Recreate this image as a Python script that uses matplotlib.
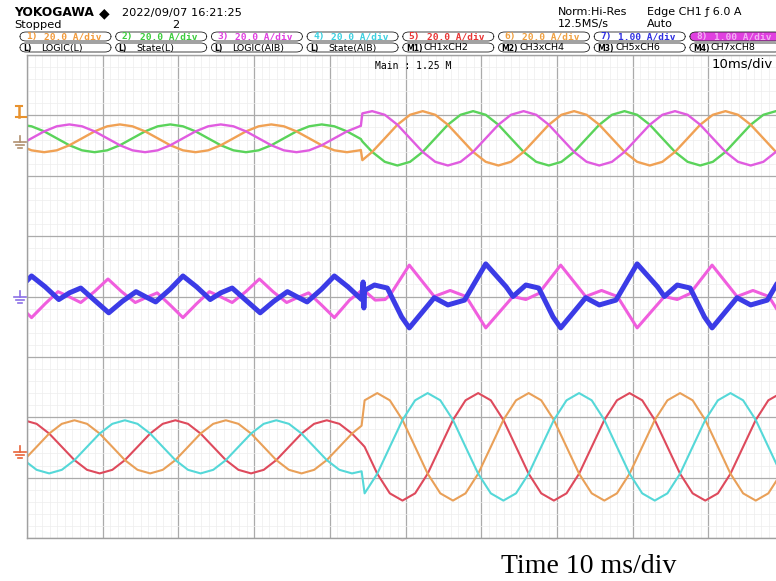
import numpy as np
import matplotlib.pyplot as plt
from matplotlib.patches import FancyBboxPatch
from matplotlib.lines import Line2D

# ---- values ----
# time in ms from the left edge of the grid, currents in A

# upper group: CH1 (orange), CH2 (green), CH3 (magenta), 20 A/div
top_t = [-1.07, 0.60, 2.27, 3.93,
         5.60, 7.27, 8.93, 10.60, 12.27, 13.93, 15.60, 17.27, 18.93, 20.60, 22.27, 23.93,
         25.60, 27.27, 28.93, 30.60, 32.27, 33.93, 35.60, 37.27, 38.93, 40.60, 42.27, 43.93,
         44.10, 44.30,
         45.60, 47.27, 48.93, 50.60, 52.27, 53.93, 55.60, 57.27, 58.93, 60.60, 62.27, 63.93,
         65.60, 67.27, 68.93, 70.60, 72.27, 73.93, 75.60, 77.27, 78.93, 80.60, 82.27, 83.93,
         85.60, 87.27, 88.93, 90.60, 92.27, 93.93, 95.60, 97.27, 98.93, 100.60, 102.27, 103.93]
ch1 = [-2.3, -3.98, -4.6, -3.98,
       -2.3, 0, 2.3, 3.98, 4.6, 3.98, 2.3, 0, -2.3, -3.98, -4.6, -3.98,
       -2.3, 0, 2.3, 3.98, 4.6, 3.98, 2.3, 0, -2.3, -3.98, -4.6, -3.98,
       -3.86, -7.24,
       -4.5, 0, 4.5, 7.79, 9, 7.79, 4.5, 0, -4.5, -7.79, -9, -7.79,
       -4.5, 0, 4.5, 7.79, 9, 7.79, 4.5, 0, -4.5, -7.79, -9, -7.79,
       -4.5, 0, 4.5, 7.79, 9, 7.79, 4.5, 0, -4.5, -7.79, -9, -7.79]
ch2 = [4.6, 3.98, 2.3, 0,
       -2.3, -3.98, -4.6, -3.98, -2.3, 0, 2.3, 3.98, 4.6, 3.98, 2.3, 0,
       -2.3, -3.98, -4.6, -3.98, -2.3, 0, 2.3, 3.98, 4.6, 3.98, 2.3, 0,
       -0.24, -1.04,
       -4.5, -7.79, -9, -7.79, -4.5, 0, 4.5, 7.79, 9, 7.79, 4.5, 0,
       -4.5, -7.79, -9, -7.79, -4.5, 0, 4.5, 7.79, 9, 7.79, 4.5, 0,
       -4.5, -7.79, -9, -7.79, -4.5, 0, 4.5, 7.79, 9, 7.79, 4.5, 0]
ch3 = [-2.3, 0, 2.3, 3.98,
       4.6, 3.98, 2.3, 0, -2.3, -3.98, -4.6, -3.98, -2.3, 0, 2.3, 3.98,
       4.6, 3.98, 2.3, 0, -2.3, -3.98, -4.6, -3.98, -2.3, 0, 2.3, 3.98,
       4.10, 8.26,
       9, 7.79, 4.5, 0, -4.5, -7.79, -9, -7.79, -4.5, 0, 4.5, 7.79,
       9, 7.79, 4.5, 0, -4.5, -7.79, -9, -7.79, -4.5, 0, 4.5, 7.79,
       9, 7.79, 4.5, 0, -4.5, -7.79, -9, -7.79, -4.5, 0, 4.5, 7.79]

# lower group: CH4 (cyan), CH5 (red), CH6 (orange), 20 A/div
bot_t = [-0.40, 1.27, 2.93, 4.60, 6.27, 7.93, 9.60, 11.27, 12.93, 14.60, 16.27, 17.93,
         19.60, 21.27, 22.93, 24.60, 26.27, 27.93, 29.60, 31.27, 32.93, 34.60, 36.27, 37.93,
         39.60, 41.27, 42.93,
         44.20,
         44.60, 46.27, 47.93, 49.60, 51.27, 52.93, 54.60, 56.27, 57.93,
         59.60, 61.27, 62.93, 64.60, 66.27, 67.93, 69.60, 71.27, 72.93, 74.60, 76.27, 77.93,
         79.60, 81.27, 82.93, 84.60, 86.27, 87.93, 89.60, 91.27, 92.93, 94.60, 96.27, 97.93,
         99.60, 101.27, 102.93]
ch5 = [8.8, 7.62, 4.4, 0, -4.4, -7.62, -8.8, -7.62, -4.4, 0, 4.4, 7.62,
       8.8, 7.62, 4.4, 0, -4.4, -7.62, -8.8, -7.62, -4.4, 0, 4.4, 7.62,
       8.8, 7.62, 4.4,
       1.10,
       0, -8.9, -15.41, -17.8, -15.41, -8.9, 0, 8.9, 15.41,
       17.8, 15.41, 8.9, 0, -8.9, -15.41, -17.8, -15.41, -8.9, 0, 8.9, 15.41,
       17.8, 15.41, 8.9, 0, -8.9, -15.41, -17.8, -15.41, -8.9, 0, 8.9, 15.41,
       17.8, 15.41, 8.9]
ch6 = [-4.4, 0, 4.4, 7.62,
       8.8, 7.62, 4.4, 0, -4.4, -7.62, -8.8, -7.62, -4.4, 0, 4.4, 7.62,
       8.8, 7.62, 4.4, 0, -4.4, -7.62, -8.8, -7.62, -4.4, 0, 4.4,
       7.00,
       15.41,
       17.8, 15.41, 8.9, 0, -8.9, -15.41, -17.8, -15.41, -8.9, 0, 8.9, 15.41,
       17.8, 15.41, 8.9, 0, -8.9, -15.41, -17.8, -15.41, -8.9, 0, 8.9, 15.41,
       17.8, 15.41, 8.9, 0, -8.9, -15.41, -17.8, -15.41, -8.9, 0, 8.9]
ch4 = [-4.4, -7.62, -8.8, -7.62, -4.4, 0, 4.4, 7.62,
       8.8, 7.62, 4.4, 0, -4.4, -7.62, -8.8, -7.62, -4.4, 0, 4.4, 7.62,
       8.8, 7.62, 4.4, 0, -4.4, -7.62, -8.8,
       -8.10,
       -15.41, -8.9, 0, 8.9, 15.41,
       17.8, 15.41, 8.9, 0, -8.9, -15.41, -17.8, -15.41, -8.9, 0, 8.9, 15.41,
       17.8, 15.41, 8.9, 0, -8.9, -15.41, -17.8, -15.41, -8.9, 0, 8.9, 15.41,
       17.8, 15.41, 8.9, 0, -8.9, -15.41, -17.8]

# middle group: CH7 (blue) and CH8 (pink), 1.00 A/div
ch7_t = [-1.1, 0.6, 2.4, 4.2, 5.6, 7.1, 8.9, 10.8, 12.6, 14.4, 15.6, 17.0, 18.9,
         20.6, 22.4, 24.2, 25.6, 27.1, 28.9, 30.8, 32.6, 34.4, 35.6, 37.0, 38.9,
         40.6, 42.4, 44.2, 44.4, 44.5, 44.6, 45.9, 47.6, 49.5, 50.5, 53.8, 55.6, 57.8,
         60.6, 63.3, 64.2, 65.9, 67.6, 69.5, 70.5, 73.8, 75.6, 77.8,
         80.6, 83.3, 84.2, 85.9, 87.6, 89.5, 90.5, 93.8, 95.6, 97.8,
         100.6, 103.3]
ch7 = [0.12, 0.34, 0.16, -0.05, 0.06, 0.14, -0.06, -0.27, -0.08, 0.08, 0.0, -0.09, 0.12,
       0.34, 0.16, -0.05, 0.06, 0.14, -0.06, -0.27, -0.08, 0.08, 0.0, -0.09, 0.12,
       0.34, 0.16, -0.05, 0.24, -0.19, 0.10, 0.19, 0.14, -0.34, -0.52, -0.02, -0.14, -0.06,
       0.54, 0.16, 0.0, 0.19, 0.14, -0.34, -0.52, -0.02, -0.14, -0.06,
       0.54, 0.16, 0.0, 0.19, 0.14, -0.34, -0.52, -0.02, -0.14, -0.06,
       0.54, 0.16]
ch8_t = [-1.1, 0.6, 2.4, 4.1, 5.5, 7.1, 8.9, 10.7, 12.5, 14.3, 15.7, 17.2, 18.9,
         20.6, 22.4, 24.1, 25.5, 27.1, 28.9, 30.7, 32.5, 34.3, 35.7, 37.2, 38.9,
         40.6, 42.6, 44.3, 44.9, 46.0, 47.3, 48.0, 50.5, 53.8, 55.9, 58.0,
         60.6, 64.2, 65.9, 67.6, 70.5, 73.8, 75.9, 78.0,
         80.6, 84.2, 85.9, 87.6, 90.5, 93.8, 95.9, 98.0,
         100.6]
ch8 = [-0.14, -0.35, -0.12, 0.08, 0.0, -0.1, 0.08, 0.29, 0.08, -0.1, -0.02, 0.06, -0.14,
       -0.35, -0.12, 0.08, 0.0, -0.1, 0.08, 0.29, 0.08, -0.1, -0.02, 0.06, -0.14,
       -0.35, -0.06, 0.11, 0.06, -0.06, -0.05, 0.03, 0.52, 0.0, 0.1, 0.0,
       -0.52, 0.0, -0.05, 0.05, 0.52, 0.0, 0.1, 0.0,
       -0.52, 0.0, -0.05, 0.05, 0.52, 0.0, 0.1, 0.0,
       -0.52]

# header texts
ch_numbers = ["1", "2", "3", "4", "5", "6", "7", "8"]
ch_vdiv = ["20.0 A/div", "20.0 A/div", "20.0 A/div", "20.0 A/div",
           "20.0 A/div", "20.0 A/div", "1.00 A/div", "1.00 A/div"]
sub_tags = ["L", "L", "L", "L", "M1", "M2", "M3", "M4"]
sub_labels = ["LOGIC(L)", "State(L)", "LOGIC(AIB)", "State(AIB)",
              "CH1xCH2", "CH3xCH4", "CH5xCH6", "CH7xCH8"]

# ---- layout (pixels of the 776x581 picture) ----
W, H = 776, 581
def fx(x):
    return x / W
def fy(y):
    return 1 - y / H

label_cols = ["#f29a3a", "#3ccc3c", "#e03ee0", "#3cd0e0",
              "#e83434", "#f0a040", "#3030e0", "#f3b0f3"]

fig = plt.figure(figsize=(W / 100, H / 100), dpi=100)
fig.patch.set_facecolor("white")

# grid area: x 27..784 px (10 div), y 55..538 px (8 div)
ax = fig.add_axes([fx(27), fy(538), 757 / W, 483 / H])
ax.set_xlim(0, 100)
ax.set_ylim(-4, 4)
ax.set_xticks(np.arange(0, 101, 10))
ax.set_yticks(np.arange(-4, 5, 1))
ax.set_xticks(np.arange(0, 100.5, 1), minor=True)
ax.set_yticks(np.arange(-4, 4.05, 0.2), minor=True)
ax.grid(which="minor", color="#ededed", lw=0.5)
ax.grid(which="major", color="#ababab", lw=0.9)
ax.set_axisbelow(True)
ax.tick_params(which="both", length=0, labelbottom=False, labelleft=False)
for s in ax.spines.values():
    s.set_color("#a0a0a0")
    s.set_linewidth(1.0)

def div(vals, scale, offset):
    return np.array(vals) / scale + offset

top_off, mid_off, bot_off = 2.62, 0.0, -2.49

kw = dict(solid_joinstyle="round", solid_capstyle="round")
ax.plot(top_t, div(ch2, 20, top_off), color="#5ad35a", lw=1.7, **kw)
ax.plot(top_t, div(ch1, 20, top_off), color="#f0a154", lw=1.7, **kw)
ax.plot(top_t, div(ch3, 20, top_off), color="#e05ce0", lw=1.7, **kw)

ax.plot(ch8_t, div(ch8, 1, mid_off), color="#f05ede", lw=2.2, **kw)
ax.plot(ch7_t, div(ch7, 1, mid_off), color="#3b3be6", lw=3.6, **kw)

ax.plot(bot_t, div(ch5, 20, bot_off), color="#de4a5c", lw=1.5, **kw)
ax.plot(bot_t, div(ch6, 20, bot_off), color="#e9a058", lw=1.5, **kw)
ax.plot(bot_t, div(ch4, 20, bot_off), color="#55d8d8", lw=1.5, **kw)

ax.text(0.46, 0.987, "Main : 1.25 M", transform=ax.transAxes, fontsize=7,
        family="DejaVu Sans Mono", va="top", ha="left")
fig.text(fx(773), fy(64), "10ms/div", fontsize=9.5, va="center", ha="right")

# ---- left margin markers ----
def seg(x0, y0, x1, y1, color, lw=1.2):
    fig.add_artist(Line2D([fx(x0), fx(x1)], [fy(y0), fy(y1)], color=color, lw=lw))

def ground(y, color):
    seg(20, y - 6, 20, y, color)
    seg(14, y, 26, y, color)
    seg(16, y + 3, 24, y + 3, color)
    seg(18, y + 6, 22, y + 6, color)

seg(19, 106, 19, 117, "#e8922e", 1.8)
seg(16, 106, 22, 106, "#e8922e", 1.5)
seg(16, 117, 26, 117, "#e8922e", 1.5)
ground(142, "#b09070")
ground(297, "#8b6fe6")
ground(452, "#e8643a")

# ---- header ----
fig.text(fx(14), fy(13), "YOKOGAWA", fontsize=8.8, fontweight="heavy",
         va="center", ha="left")
fig.text(fx(99), fy(13), "\u25c6", fontsize=10, va="center", ha="left")
fig.text(fx(122), fy(13), "2022/09/07 16:21:25", fontsize=8.2, va="center", ha="left")
fig.text(fx(14), fy(25), "Stopped", fontsize=8.2, va="center", ha="left")
fig.text(fx(172), fy(25), "2", fontsize=8.2, va="center", ha="left")
fig.text(fx(558), fy(12), "Norm:Hi-Res", fontsize=8, va="center", ha="left")
fig.text(fx(558), fy(24), "12.5MS/s", fontsize=8, va="center", ha="left")
fig.text(fx(647), fy(12), "Edge CH1 \u0192 6.0 A", fontsize=8, va="center", ha="left")
fig.text(fx(647), fy(24), "Auto", fontsize=8, va="center", ha="left")

for i in range(8):
    x0 = 20 + 95.7 * i
    fill = "#e040e0" if i == 7 else "none"
    for yy in (32, 43):
        box = FancyBboxPatch((fx(x0), fy(yy + 9)), 91 / W, 9 / H,
                             boxstyle="round,pad=0,rounding_size=0.008",
                             transform=fig.transFigure, fc=fill if yy == 32 else "none",
                             ec="#222222", lw=0.6)
        fig.add_artist(box)
    fig.text(fx(x0 + 6), fy(37), ch_numbers[i] + ")", fontsize=6.8,
             family="DejaVu Sans Mono", color=label_cols[i], va="center", ha="left",
             fontweight="bold")
    fig.text(fx(x0 + 24), fy(37), ch_vdiv[i], fontsize=6.8, family="DejaVu Sans Mono",
             color=label_cols[i], va="center", ha="left", fontweight="bold")
    fig.text(fx(x0 + 3), fy(48), sub_tags[i] + ")", fontsize=5.5, va="center", ha="left",
             fontweight="bold")
    fig.text(fx(x0 + 21), fy(48), sub_labels[i], fontsize=6.8, va="center", ha="left")

fig.text(fx(589), fy(573), "Time 10 ms/div", fontsize=20, family="Liberation Serif",
         va="baseline", ha="center")

fig.savefig("out.png", dpi=100)
